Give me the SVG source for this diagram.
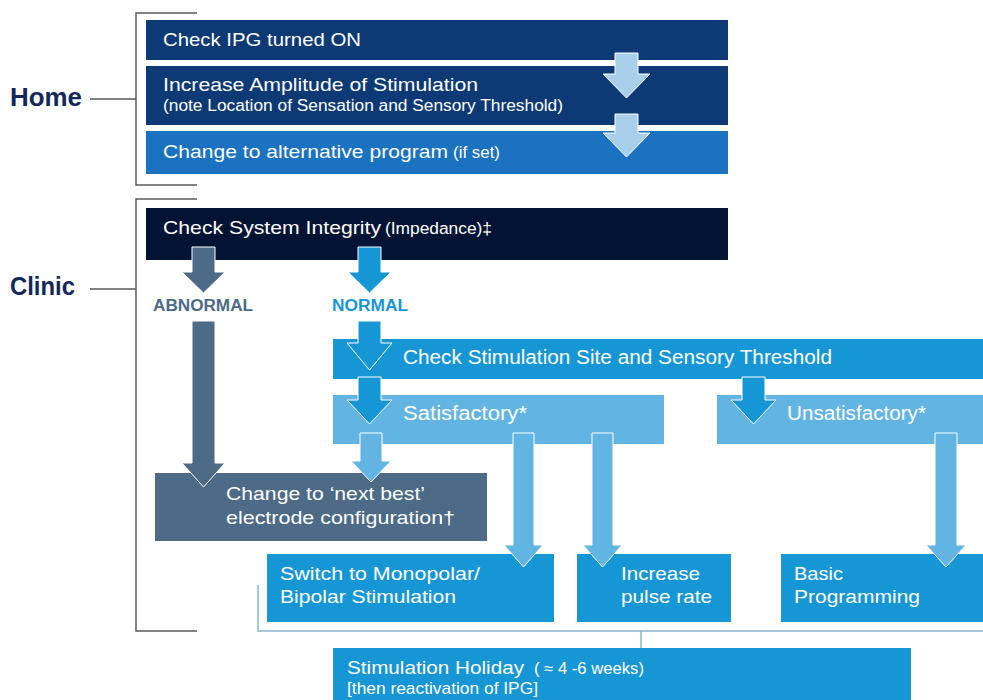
<svg xmlns="http://www.w3.org/2000/svg" width="983" height="700" viewBox="0 0 983 700">
  <style>
    text { font-family: "Liberation Sans", Arial, sans-serif; fill: #ffffff; }
    .side { font-size: 25px; font-weight: bold; fill: #14285a; }
    .t { font-size: 19px; }
    .s { font-size: 16px; }
    .cap { font-size: 16px; font-weight: bold; }
    .bracket { fill: none; stroke: #5a5a5a; stroke-width: 1.5; }
    .link { fill: none; stroke: #8db4d0; stroke-width: 1.5; }
    .navy { fill: #0d3a75; }
    .mid { fill: #1a72c0; }
    .ink { fill: #021334; }
    .slate { fill: #4d6a86; }
    .blue { fill: #1796d6; }
    .light { fill: #62b5e3; }
    .arr { stroke: #ffffff; stroke-width: 1; stroke-linejoin: miter; }
    .arr-pale { fill: #a9d0ea; }
    .arr-slate { fill: #4d6a86; }
    .arr-blue { fill: #1796d6; }
    .arr-light { fill: #62b5e3; }
  </style>

  <!-- section labels with brackets -->
  <g id="home-label">
    <text class="side" x="10" y="106" textLength="72" lengthAdjust="spacingAndGlyphs">Home</text>
    <path class="bracket" d="M90,99 H136 M197,13 H136 V185 H197"/>
  </g>
  <g id="clinic-label">
    <text class="side" x="10" y="295" textLength="65" lengthAdjust="spacingAndGlyphs">Clinic</text>
    <path class="bracket" d="M90,289 H136 M197,199 H136 V631 H197"/>
  </g>

  <!-- home steps -->
  <g id="check-ipg">
    <rect class="navy" x="146" y="20" width="582" height="40"/>
    <text class="t" x="163" y="46" textLength="198" lengthAdjust="spacingAndGlyphs">Check IPG turned ON</text>
  </g>
  <g id="increase-amplitude">
    <rect class="navy" x="146" y="66" width="582" height="59"/>
    <text class="t" x="163" y="91" textLength="315" lengthAdjust="spacingAndGlyphs">Increase Amplitude of Stimulation</text>
    <text class="s" x="163" y="111" textLength="400" lengthAdjust="spacingAndGlyphs">(note Location of Sensation and Sensory Threshold)</text>
  </g>
  <g id="alternative-program">
    <rect class="mid" x="146" y="131" width="582" height="43"/>
    <text class="t" x="163" y="158" textLength="285" lengthAdjust="spacingAndGlyphs">Change to alternative program</text>
    <text class="s" x="453" y="158" textLength="47" lengthAdjust="spacingAndGlyphs">(if set)</text>
  </g>

  <!-- clinic steps -->
  <g id="system-integrity">
    <rect class="ink" x="146" y="208" width="582" height="52"/>
    <text class="t" x="163" y="234" textLength="218" lengthAdjust="spacingAndGlyphs">Check System Integrity</text>
    <text class="s" x="385" y="234" textLength="107" lengthAdjust="spacingAndGlyphs">(Impedance)‡</text>
  </g>
  <g id="abnormal">
    <text class="cap" x="153" y="311" textLength="100" lengthAdjust="spacingAndGlyphs" style="fill:#4d6a86">ABNORMAL</text>
  </g>
  <g id="normal">
    <text class="cap" x="332" y="311" textLength="76" lengthAdjust="spacingAndGlyphs" style="fill:#1796d6">NORMAL</text>
  </g>
  <g id="check-site">
    <rect class="blue" x="333" y="339" width="650" height="40"/>
  </g>
  <g id="satisfactory">
    <rect class="light" x="333" y="395" width="331" height="49"/>
  </g>
  <g id="unsatisfactory">
    <rect class="light" x="717" y="395" width="266" height="49"/>
  </g>
  <g id="next-best">
    <rect class="slate" x="155" y="473" width="332" height="68"/>
  </g>
  <g id="switch-polarity">
    <rect class="blue" x="267" y="554" width="287" height="68"/>
    <text class="t" x="280" y="580" textLength="200" lengthAdjust="spacingAndGlyphs">Switch to Monopolar/</text>
    <text class="t" x="280" y="603" textLength="176" lengthAdjust="spacingAndGlyphs">Bipolar Stimulation</text>
  </g>
  <g id="pulse-rate">
    <rect class="blue" x="577" y="554" width="154" height="68"/>
    <text class="t" x="621" y="580" textLength="79" lengthAdjust="spacingAndGlyphs">Increase</text>
    <text class="t" x="621" y="603" textLength="91" lengthAdjust="spacingAndGlyphs">pulse rate</text>
  </g>
  <g id="basic-programming">
    <rect class="blue" x="781" y="554" width="202" height="68"/>
    <text class="t" x="794" y="580" textLength="49" lengthAdjust="spacingAndGlyphs">Basic</text>
    <text class="t" x="794" y="603" textLength="126" lengthAdjust="spacingAndGlyphs">Programming</text>
  </g>
  <g id="stimulation-holiday">
    <rect class="blue" x="333" y="648" width="578" height="52"/>
    <text class="t" x="347" y="674" textLength="177" lengthAdjust="spacingAndGlyphs">Stimulation Holiday</text>
    <text class="s" x="534" y="674" textLength="110" lengthAdjust="spacingAndGlyphs">( ≈ 4 -6 weeks)</text>
    <text class="s" x="347" y="694" textLength="191" lengthAdjust="spacingAndGlyphs">[then reactivation of IPG]</text>
  </g>

  <!-- block arrows and thin links -->
  <g id="connectors">
    <polygon class="arr arr-pale" points="615,53 638,53 638,74 650,74 626.5,98 603,74 615,74"/>
    <polygon class="arr arr-pale" points="615,114 638,114 638,133 650,133 626.5,157 603,133 615,133"/>
    <polygon class="arr arr-slate" points="192,247 215,247 215,272 225,272 203.5,293 182,272 192,272"/>
    <polygon class="arr arr-blue" points="358,247 381,247 381,272 391,272 369.5,293 348,272 358,272"/>
    <polygon class="arr arr-slate" points="192,321 215,321 215,463 225,463 203.5,487 182,463 192,463"/>
    <polygon class="arr arr-blue" points="358,321 381,321 381,343 392,343 369.5,370 347,343 358,343"/>
    <polygon class="arr arr-blue" points="358,377 381,377 381,400 392,400 369.5,424 347,400 358,400"/>
    <polygon class="arr arr-blue" points="742,377 765,377 765,400 776,400 753.5,424 731,400 742,400"/>
    <polygon class="arr arr-light" points="360,433 382,433 382,461 391,461 371,482 351,461 360,461"/>
    <polygon class="arr arr-light" points="513,433 534,433 534,545 543,545 523.5,567 504,545 513,545"/>
    <polygon class="arr arr-light" points="592,433 613,433 613,545 622,545 602.5,567 583,545 592,545"/>
    <polygon class="arr arr-light" points="935,433 957,433 957,545 966,545 946,567 926,545 935,545"/>
    <path class="link" d="M258,585 V631 H983 M641,631 V648"/>
  </g>

  <!-- labels drawn over their boxes and arrowheads -->
  <g id="labels">
    <text class="t" x="403" y="364" textLength="429" lengthAdjust="spacingAndGlyphs" style="font-size:19.5px">Check Stimulation Site and Sensory Threshold</text>
    <text class="t" x="403" y="420" textLength="124" lengthAdjust="spacingAndGlyphs" style="font-size:19.5px">Satisfactory*</text>
    <text class="t" x="787" y="420" textLength="139" lengthAdjust="spacingAndGlyphs" style="font-size:19.5px">Unsatisfactory*</text>
    <text class="t" x="226" y="500" textLength="199" lengthAdjust="spacingAndGlyphs">Change to ‘next best’</text>
    <text class="t" x="226" y="524" textLength="229" lengthAdjust="spacingAndGlyphs">electrode configuration†</text>
  </g>
</svg>
